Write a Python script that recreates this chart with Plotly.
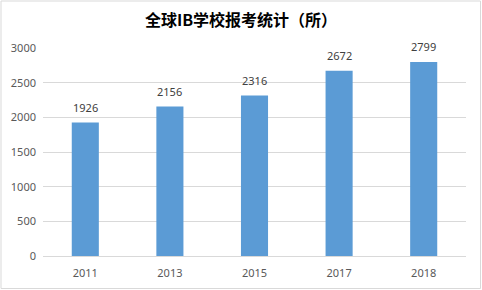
import plotly.graph_objects as go

categories = ["2011", "2013", "2015", "2017", "2018"]
values = [1926, 2156, 2316, 2672, 2799]
y_ticks = [0, 500, 1000, 1500, 2000, 2500, 3000]
title_text = "全球IB学校报考统计（所）"

W, H = 482, 290
ml, mr, mt, mb = 43, 16, 48, 34
pw, ph = W - ml - mr, H - mt - mb

xpos = list(range(len(categories)))

fig = go.Figure()
fig.add_trace(go.Bar(
    x=xpos, y=values, marker=dict(color="#5B9BD5", line=dict(width=0)),
    width=0.32, hoverinfo="skip",
))
for xp, v in zip(xpos, values):
    fig.add_annotation(x=xp, y=v, text=str(v), showarrow=False, yshift=15,
                       font=dict(size=11, color="#404040", family="Noto Sans"))

fig.add_shape(type="rect", xref="paper", yref="paper",
              x0=(-ml + 1) / pw, x1=(pw + mr - 1.5) / pw,
              y0=(-mb + 1.5) / ph, y1=(ph + mt - 1) / ph,
              line=dict(color="#D9D9D9", width=1), layer="below")

fig.update_layout(
    width=W, height=H, margin=dict(l=ml, r=mr, t=mt, b=mb, autoexpand=False),
    paper_bgcolor="white", plot_bgcolor="white", showlegend=False,
    title=dict(text="<b>" + title_text + "</b>", x=0.5, xanchor="center", y=1 - 20.5 / H, yanchor="middle",
               font=dict(size=16, color="#000000", family="Noto Sans CJK SC")),
    font=dict(family="Noto Sans", size=11, color="#595959"),
)
fig.update_yaxes(range=[0, 3000], tickvals=y_ticks, showgrid=True, gridcolor="#D9D9D9",
                 gridwidth=1, zeroline=False, showline=False, ticks="", ticklen=0,
                 automargin=False, ticklabelstandoff=6, tickfont=dict(size=11, color="#595959"))
fig.update_xaxes(type="linear", range=[-0.5, len(categories) - 0.5], tickvals=xpos, ticktext=categories,
                 showline=True, linecolor="#D9D9D9", linewidth=1, ticks="",
                 automargin=False, ticklabelstandoff=7, showgrid=False, zeroline=False,
                 tickfont=dict(size=11, color="#595959"))

fig.write_html("out.html")
